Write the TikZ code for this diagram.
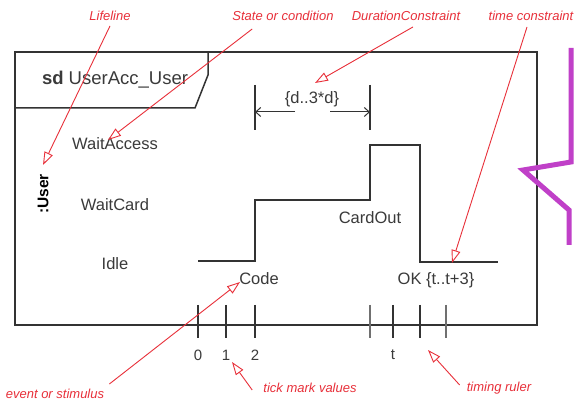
\documentclass[tikz,border=0pt]{standalone}
\usepackage{fontspec}
\setmainfont{Liberation Sans}
\usetikzlibrary{arrows.meta}
\definecolor{ink}{HTML}{333333}
\definecolor{txt}{HTML}{3A3A3A}
\definecolor{annot}{HTML}{E8303A}
\definecolor{callout}{HTML}{C040C8}
\begin{document}
\begin{tikzpicture}[x=1pt,y=-1pt,
  lbl/.style={font=\fontsize{16.5}{19}\selectfont, text=txt, inner sep=0pt},
  note/.style={font=\fontsize{13}{15}\selectfont\itshape, text=annot, inner sep=0pt},
  notearrow/.style={draw=annot, line width=0.9pt, -{Triangle[open, length=13pt, width=9pt]}},
  wave/.style={draw=ink, line width=1.6pt, line join=miter},
  tickmark/.style={draw=ink, line width=1.4pt},
  durarrow/.style={draw=ink, line width=1pt, -{Straight Barb[length=5pt, width=9pt]}},
  frameline/.style={draw=ink, line width=1.8pt},
]
\useasboundingbox[fill=white] (0,0) rectangle (574,403);

% frame and name tag
\draw[frameline] (15,52) rectangle (537,325);
\draw[draw=ink, line width=1.5pt] (15,108) -- (195,108) -- (208,75) -- (208,52);
\node[lbl, font=\fontsize{18.5}{22}\selectfont] (title) at (115,80) {\textbf{sd} UserAcc\_User};

% lifeline and states
\node[lbl, font=\fontsize{15.5}{18}\selectfont\bfseries, text=black, rotate=90] (user) at (43,194) {:User};
\node[lbl] (waitaccess) at (115,144) {WaitAccess};
\node[lbl] (waitcard) at (115,205) {WaitCard};
\node[lbl] (idle) at (115,264) {Idle};

% waveform
\draw[wave] (198,261) -- (255,261) -- (255,200) -- (370,200) -- (370,145) -- (420,145) -- (420,262) -- (498,262);

% duration constraint
\draw[tickmark] (255,85) -- (255,130);
\draw[tickmark] (370,85) -- (370,130);
\node[lbl] (dlabel) at (312,99) {\{d..3*d\}};
\coordinate (dleft) at (255,112);
\coordinate (dright) at (370,112);
\coordinate (dls) at (295,112);
\coordinate (drs) at (330,112);
\draw[durarrow] (dls) -- (dleft);
\draw[durarrow] (drs) -- (dright);

% event labels
\node[lbl] (cardout) at (370,218) {CardOut};
\node[lbl] (code) at (259,279) {Code};
\node[lbl] (ok) at (436,280) {OK \{t..t+3\}};

% timing ruler
\foreach \x in {198,226,255,393,420} \draw[tickmark] (\x,305) -- (\x,338);
\foreach \x in {370,446} \draw[tickmark, draw=ink!70, line width=1.1pt] (\x,305) -- (\x,338);
\node[lbl, font=\fontsize{15}{18}\selectfont] (t0) at (198,355) {0};
\node[lbl, font=\fontsize{15}{18}\selectfont] (t1) at (226,355) {1};
\node[lbl, font=\fontsize{15}{18}\selectfont] (t2) at (255,355) {2};
\node[lbl, font=\fontsize{15}{18}\selectfont] (tt) at (393,355) {t};

% annotations
\node[note] (lifeline) at (110,16) {Lifeline};
\node[note] (state) at (283,16) {State or condition};
\node[note] (durc) at (406,16) {DurationConstraint};
\node[note] (timec) at (531,16) {time constraint};
\node[note] (event) at (55,394) {event or stimulus};
\node[note] (tickv) at (310,388) {tick mark values};
\node[note] (ruler) at (499,388) {timing ruler};

\coordinate (lifeTip) at (43,165);
\coordinate (stateTip) at (108,140);
\coordinate (durTip) at (315,83);
\coordinate (timeTip) at (452,263);
\coordinate (eventTip) at (240,282);
\coordinate (tickTip) at (232,362);
\coordinate (rulerTip) at (428,350);

\draw[notearrow] ([yshift=-5pt]lifeline.south) -- (lifeTip);
\draw[notearrow] ([xshift=20pt,yshift=-8pt]state.south west) -- (stateTip);
\draw[notearrow] ([xshift=7pt,yshift=-6pt]durc.south) -- (durTip);
\draw[notearrow] ([xshift=-4pt,yshift=-6pt]timec.south) -- (timeTip);
\draw[notearrow] ([xshift=5pt,yshift=5pt]event.north east) -- (eventTip);
\draw[notearrow] ([xshift=-11pt,yshift=-2pt]tickv.west) -- (tickTip);
\draw[notearrow] ([xshift=-7pt,yshift=3pt]ruler.west) -- (rulerTip);

% callout pointer
\draw[callout, line width=5pt, line join=miter] (571,48) -- (571,162) -- (523,170) -- (569,210) -- (569,245);
\end{tikzpicture}
\end{document}
